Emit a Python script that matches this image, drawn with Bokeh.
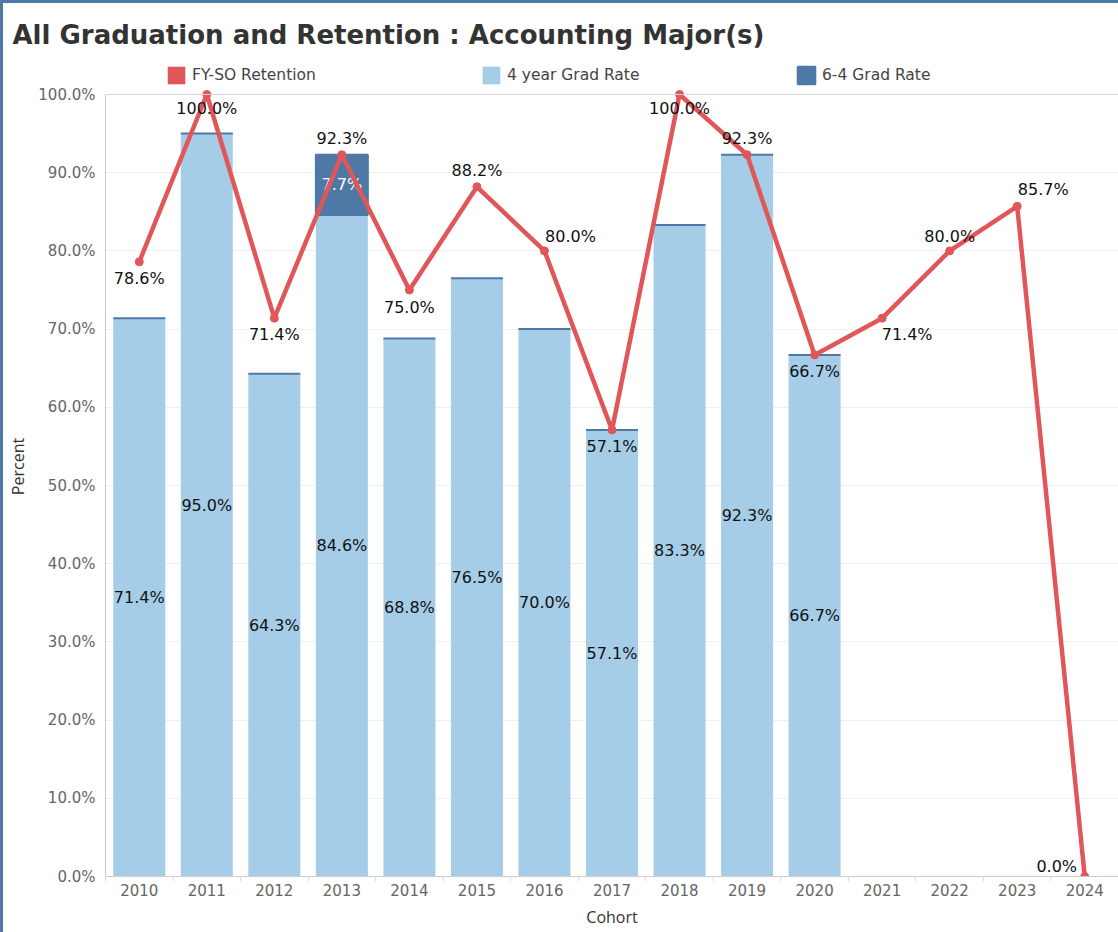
from bokeh.plotting import figure
from bokeh.models import (ColumnDataSource, FixedTicker, CustomJSTickFormatter, PrintfTickFormatter,
                          Legend, LegendItem, Title, Range1d, Span)
from bokeh.embed import file_html
from bokeh.resources import INLINE
from bokeh.core.properties import value

# ---------------- data ----------------
cohorts = ["2010", "2011", "2012", "2013", "2014", "2015", "2016", "2017",
           "2018", "2019", "2020", "2021", "2022", "2023", "2024"]
fy_so_retention = [78.6, 100.0, 71.4, 92.3, 75.0, 88.2, 80.0, 57.1,
                   100.0, 92.3, 66.7, 71.4, 80.0, 85.7, 0.0]
grad_4yr = [71.4, 95.0, 64.3, 84.6, 68.8, 76.5, 70.0, 57.1,
            83.3, 92.3, 66.7, None, None, None, None]
grad_6_4 = [0.0, 0.0, 0.0, 7.7, 0.0, 0.0, 0.0, 0.0,
            0.0, 0.0, 0.0, None, None, None, None]
y_ticks = [0, 10, 20, 30, 40, 50, 60, 70, 80, 90, 100]

# label placement (screen pixels) for retention labels
ret_dx = [0, 0, 0, 0, 0, 0, 26, 0, 0, 0, 0, 25, 0, 26, -28]
ret_dy = [17, 14, 16, -16, 17, -16, -14, 17, 14, -16, 17, 16, -14, -17, -10]

RED = "#E15759"
LIGHT = "#A6CDE8"
DARK = "#4E79A7"
FONT = "DejaVu Sans"

# layout: plot area 782px for 0..100 %, plus a 38px band above it for the legend
PLOT_PX = 782
LEGEND_BAND_PX = 38
Y_MAX = 100.0
y_end = Y_MAX * (PLOT_PX + LEGEND_BAND_PX) / PLOT_PX

idx = list(range(len(cohorts)))

bar_i = [i for i in idx if grad_4yr[i] is not None]
bars = ColumnDataSource(dict(
    x=bar_i,
    g4=[grad_4yr[i] for i in bar_i],
    g4mid=[grad_4yr[i] / 2 for i in bar_i],
    t=["%.1f%%" % grad_4yr[i] for i in bar_i],
    top=[grad_4yr[i] + grad_6_4[i] for i in bar_i],
))
dark_i = [i for i in bar_i if grad_6_4[i] > 0]
dark_lab = ColumnDataSource(dict(
    x=dark_i,
    y=[grad_4yr[i] + grad_6_4[i] / 2 for i in dark_i],
    t=["%.1f%%" % grad_6_4[i] for i in dark_i],
))
ret = ColumnDataSource(dict(
    x=idx, y=fy_so_retention,
    t=["%.1f%%" % v for v in fy_so_retention],
    dx=ret_dx, dy=ret_dy,
))

p = figure(frame_width=1013, frame_height=PLOT_PX + LEGEND_BAND_PX,
           output_backend="svg", toolbar_location=None,
           x_range=Range1d(-0.5, len(cohorts) - 0.5), y_range=Range1d(0, y_end),
           min_border_left=102, min_border_right=0, min_border_top=53, min_border_bottom=56)
p.styles = {"border-top": "3px solid #4E79A7", "border-left": "3px solid #4E79A7"}
p.outline_line_color = None
p.background_fill_color = "white"
p.border_fill_color = "white"

# top border line of the plot area
p.add_layout(Span(location=Y_MAX, dimension="width", line_color="#d4d4d4", line_width=1))

# bars
r4 = p.vbar(x="x", top="g4", bottom=0, width=0.77, source=bars,
            fill_color=LIGHT, line_color=None)
r64 = p.vbar(x="x", top="top", bottom="g4", width=0.77, source=bars,
             fill_color=DARK, line_color=DARK, line_width=2)

p.text(x="x", y="g4mid", text="t", source=bars,
       text_font=value(FONT), text_font_size="16px", text_color="#111111",
       text_align="center", text_baseline="middle")
p.text(x="x", y="y", text="t", source=dark_lab,
       text_font=value(FONT), text_font_size="16px", text_color="white",
       text_align="center", text_baseline="middle")

# legend swatch for the retention series: zero-size bars, only the legend square shows
r_sw = p.vbar(x="x", top="y", bottom="y", width=0.0, source=ret,
              fill_color=RED, line_color=None)

# retention line
rl = p.line(x="x", y="y", source=ret, line_color=RED, line_width=4.5)
p.scatter(x="x", y="y", source=ret, size=8, fill_color=RED, line_color=RED)
p.text(x="x", y="y", text="t", source=ret, x_offset="dx", y_offset="dy",
       text_font=value(FONT), text_font_size="16px", text_color="#111111",
       text_align="center", text_baseline="middle")

# axes
p.xgrid.grid_line_color = None
p.ygrid.grid_line_color = "#efefef"
p.ygrid.grid_line_width = 1

p.xaxis.ticker = FixedTicker(ticks=idx, minor_ticks=[i - 0.5 for i in idx])
p.xaxis.formatter = CustomJSTickFormatter(args=dict(labels=cohorts),
                                          code="return labels[Math.round(tick)] || '';")
p.yaxis.ticker = FixedTicker(ticks=y_ticks)
p.yaxis.formatter = PrintfTickFormatter(format="%.1f%%")
p.yaxis.bounds = (0, Y_MAX)

for ax in (p.xaxis[0], p.yaxis[0]):
    ax.axis_line_color = "#cccccc"
    ax.major_tick_line_color = None
    ax.major_tick_out = 0
    ax.major_tick_in = 0
    ax.major_label_text_font = FONT
    ax.major_label_text_font_size = "15px"
    ax.major_label_text_color = "#666666"
    ax.axis_label_text_font = "Open Sans"
    ax.axis_label_text_font_size = "16px"
    ax.axis_label_text_font_style = "normal"
    ax.axis_label_text_color = "#333333"

p.xaxis.minor_tick_line_color = "#dddddd"
p.xaxis.minor_tick_out = 5
p.xaxis.minor_tick_in = 0
p.xaxis.major_label_standoff = 2
p.xaxis.axis_label = "Cohort"
p.xaxis.axis_label_standoff = 7
p.yaxis.minor_tick_line_color = None
p.yaxis.minor_tick_out = 0
p.yaxis.major_label_standoff = 10
p.yaxis.axis_label = "Percent"
p.yaxis.axis_label_standoff = 6

# legend (in the band above the 100% line)
legend = Legend(items=[
    LegendItem(label="FY-SO Retention", renderers=[r_sw]),
    LegendItem(label="4 year Grad Rate", renderers=[r4]),
    LegendItem(label="6-4 Grad Rate", renderers=[r64]),
], orientation="horizontal", location=(60, PLOT_PX + 8), spacing=52, padding=0, margin=0,
    glyph_width=22, glyph_height=22, label_standoff=5, label_width=236,
    label_text_font=FONT, label_text_font_size="15.5px", label_text_color="#444444",
    border_line_color=None, background_fill_alpha=0)
p.add_layout(legend, "center")

p.title = Title(text="All Graduation and Retention : Accounting Major(s)", align="left",
                offset=-93, text_font="DejaVu Sans", text_font_size="26px",
                text_font_style="bold", text_color="#333333", standoff=14)
p.title_location = "above"

open("out.html", "w").write(file_html(p, INLINE))
